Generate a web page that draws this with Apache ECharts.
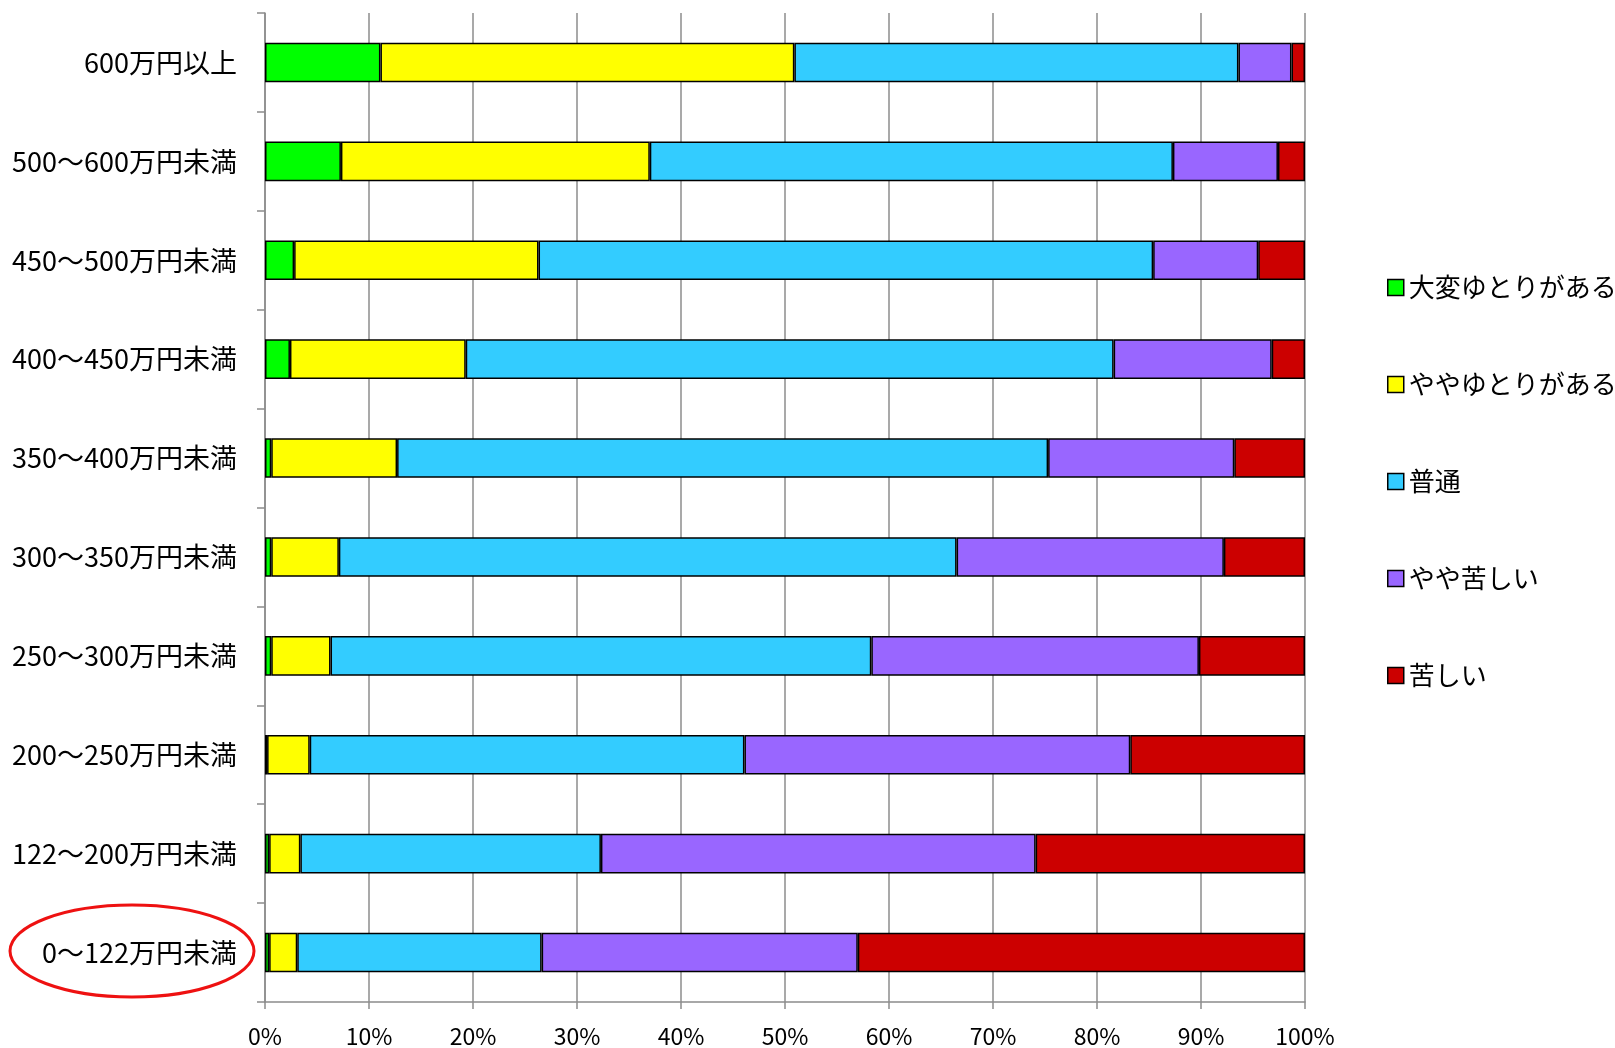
<!DOCTYPE html>
<html>
<head>
<meta charset="utf-8">
<script src="https://cdn.jsdelivr.net/npm/echarts@6/dist/echarts.min.js"></script>
<style>
  html, body { margin: 0; padding: 0; background: #fff; }
  #chart { width: 1615px; height: 1048px; }
</style>
</head>
<body>
<div id="chart"></div>
<script>
// 所得階層（上から順）
const categories = [
  '600万円以上', '500〜600万円未満', '450〜500万円未満', '400〜450万円未満',
  '350〜400万円未満', '300〜350万円未満', '250〜300万円未満', '200〜250万円未満',
  '122〜200万円未満', '0〜122万円未満'
]

const seriesNames = ['大変ゆとりがある', 'ややゆとりがある', '普通', 'やや苦しい', '苦しい']
const colors = ['#00ff00', '#ffff00', '#33ccff', '#9966ff', '#cc0000']

// 各階層の割合（%）
const veryComfortable = [11.1, 7.3, 2.8, 2.4, 0.6, 0.6, 0.6, 0.2, 0.4, 0.4]
const somewhatComfortable = [39.8, 29.7, 23.5, 16.9, 12.1, 6.5, 5.7, 4.1, 3.0, 2.7]
const normal = [42.7, 50.3, 59.1, 62.3, 62.6, 59.4, 52.0, 41.8, 28.9, 23.5]
const somewhatHard = [5.1, 10.1, 10.1, 15.2, 17.9, 25.7, 31.5, 37.1, 41.8, 30.4]
const hard = [1.3, 2.6, 4.5, 3.2, 6.8, 7.8, 10.2, 16.8, 25.9, 43.0]

const xTicks = [0, 10, 20, 30, 40, 50, 60, 70, 80, 90, 100]

const values = [veryComfortable, somewhatComfortable, normal, somewhatHard, hard]
const font = '"Noto Sans CJK JP", "Noto Sans", sans-serif'

const chart = echarts.init(document.getElementById('chart'))

const series = seriesNames.map((name, i) => ({
  name,
  type: 'bar',
  stack: 'total',
  barWidth: '40%',
  data: values[i],
  itemStyle: {
    color: colors[i],
    borderColor: '#000',
    borderWidth: 1.5
  }
}))

chart.setOption({
  animation: false,
  backgroundColor: '#ffffff',
  textStyle: { fontFamily: font },
  grid: { left: 265, right: 310, top: 13, bottom: 46 },
  legend: {
    orient: 'vertical',
    left: 1382,
    top: 269,
    itemWidth: 16,
    itemHeight: 16,
    itemGap: 70,
    itemTextGap: 8,
    icon: 'rect',
    data: seriesNames,
    itemStyle: { borderColor: '#000', borderWidth: 1.5 },
    textStyle: { fontSize: 26, color: '#000', fontFamily: font, lineHeight: 27 }
  },
  xAxis: {
    type: 'value',
    min: xTicks[0],
    max: xTicks[xTicks.length - 1],
    interval: 10,
    axisLine: { show: true, lineStyle: { color: '#8c8c8c', width: 1.5 } },
    axisTick: { show: true, length: 7, lineStyle: { color: '#8c8c8c', width: 1.5 } },
    axisLabel: { formatter: '{value}%', fontSize: 23, color: '#000', margin: 23 },
    splitLine: { show: true, lineStyle: { color: '#8c8c8c', width: 1.5 } }
  },
  yAxis: {
    type: 'category',
    inverse: true,
    data: categories,
    axisLine: { show: true, lineStyle: { color: '#8c8c8c', width: 1.5 } },
    axisTick: { show: true, length: 8, lineStyle: { color: '#8c8c8c', width: 1.5 } },
    axisLabel: { fontSize: 27, color: '#000', margin: 28 },
    splitLine: { show: false }
  },
  graphic: [
    {
      type: 'ellipse',
      shape: { cx: 132, cy: 951, rx: 122, ry: 46 },
      style: { fill: 'none', stroke: '#ee1111', lineWidth: 3 },
      z: 100
    }
  ],
  series
})
</script>
</body>
</html>
